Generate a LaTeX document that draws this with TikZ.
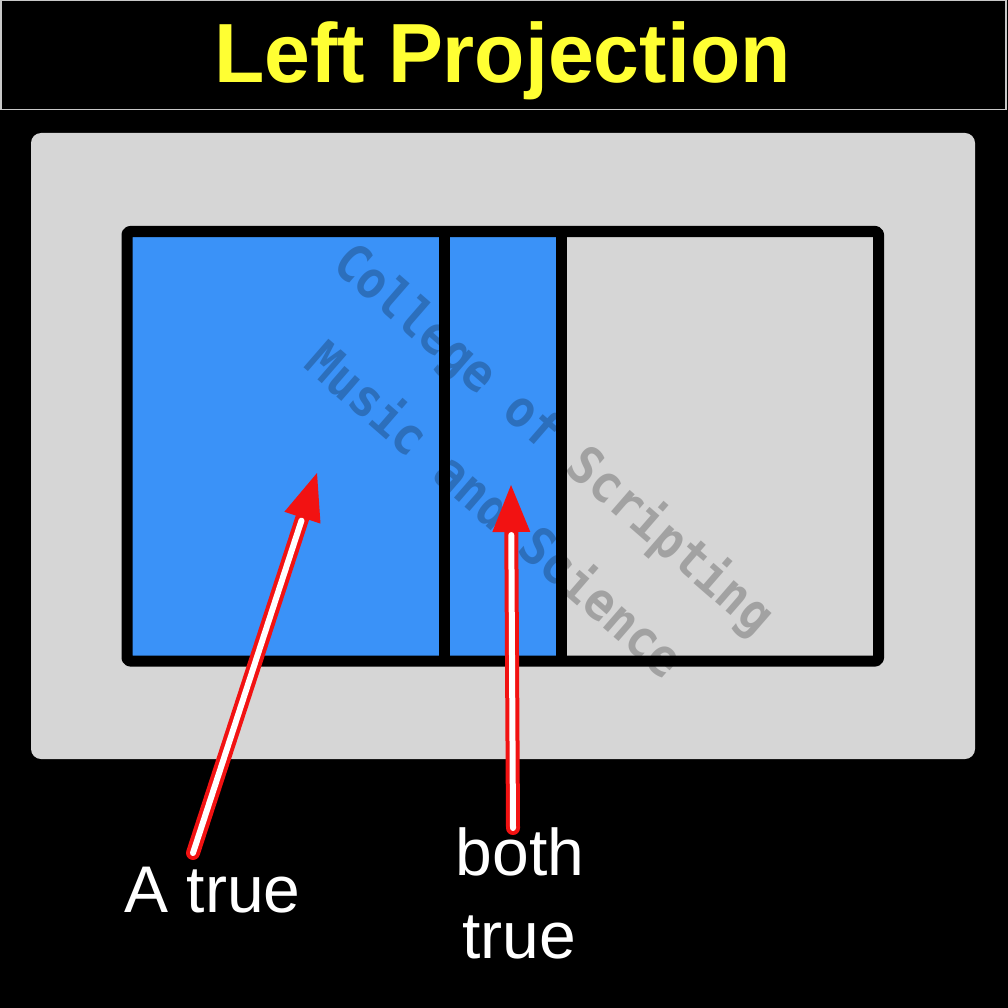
\documentclass[tikz,border=0pt]{standalone}
\usepackage{fontspec}
\setmainfont{Liberation Sans}
\newfontfamily\wmfont{DejaVu Sans Mono}
\usetikzlibrary{calc}
\definecolor{setblue}{RGB}{58,146,248}
\definecolor{panelgray}{RGB}{214,214,214}
\definecolor{titleyellow}{RGB}{255,255,51}
\definecolor{arrowred}{RGB}{242,18,18}
\definecolor{framegray}{RGB}{200,200,200}
\newcommand{\wmline}[1]{\scalebox{0.9}[1]{#1}}
\tikzset{
  titletext/.style={text=titleyellow, font=\fontsize{84}{84}\selectfont\bfseries, anchor=base, inner sep=0pt},
  labeltext/.style={text=white, font=\fontsize{66}{66}\selectfont, anchor=base, inner sep=0pt},
  wmtext/.style={text=black, text opacity=0.24, font=\wmfont\fontsize{52}{52}\selectfont\bfseries, rotate=-41, inner sep=0pt},
  frameline/.style={draw=black, line width=11pt, line join=round, line cap=round},
  shaftout/.style={draw=arrowred, line width=14pt, line cap=round},
  shaftin/.style={draw=white, line width=6pt, line cap=round},
  headfill/.style={fill=arrowred}
}
\begin{document}
\begin{tikzpicture}[x=1pt,y=-1pt]
  \fill[black] (0,0) rectangle (1008,1008);
  \useasboundingbox (0,0) rectangle (1008,1008);
  % title bar
  \draw[framegray, line width=1.5pt] (0.75,0.75) rectangle (1006,109.5);
  \node[titletext] (title) at (502.5,83) {\scalebox{0.98}[1]{Left Projection}};
  % panel
  \fill[panelgray, rounded corners=10pt] (31,133) rectangle (975,759);
  % regions
  \fill[setblue] (127,231.5) rectangle (561.5,661);
  % watermark
  \node[wmtext] (wm1) at (553,440) {\wmline{College of Scripting}};
  \node[wmtext] (wm2) at (497,508) {\wmline{Music and Science}};
  % frame and dividers
  \draw[frameline, rounded corners=3pt] (127,231.5) rectangle (878.5,661);
  \draw[frameline, line cap=butt] (444,231.5) -- (444,661);
  \draw[frameline, line cap=butt] (561.5,231.5) -- (561.5,661);
  % labels
  \node[labeltext] (atrue) at (212.5,912) {A true};
  \node[labeltext] (both) at (520,875) {both};
  \node[labeltext] (both2) at (519.5,958) {true};
  % arrows
  \coordinate (tailA) at (193,853);
  \coordinate (tipA) at (317,473);
  \coordinate (tailB) at (513,828);
  \coordinate (tipB) at (511,485);
  \foreach \t/\h in {tailA/tipA, tailB/tipB}{
    \coordinate (base) at ($(\h)!47pt!(\t)$);
    \draw[shaftout] (\t) -- (base);
    \draw[shaftin] (\t) -- ($(base)!3pt!(\t)$);
    \fill[headfill] (\h) -- ($(base)!19pt!90:(\h)$) -- ($(base)!19pt!-90:(\h)$) -- cycle;
  }
\end{tikzpicture}
\end{document}
